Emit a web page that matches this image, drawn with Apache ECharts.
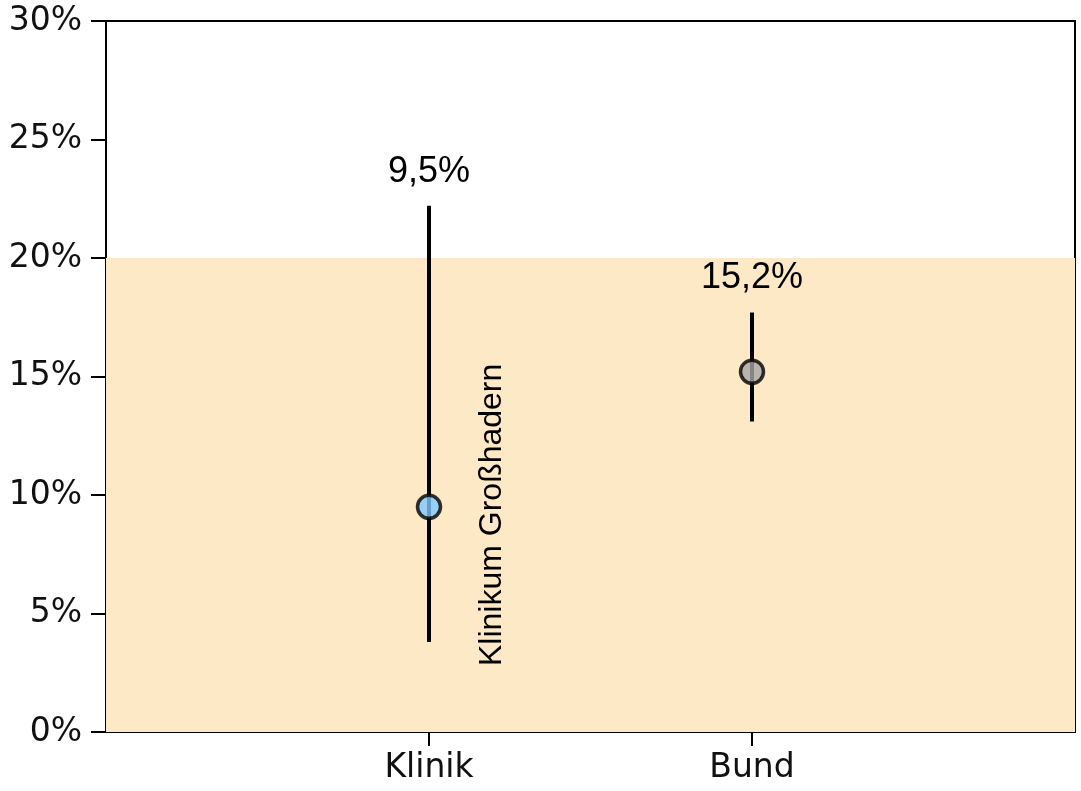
<!DOCTYPE html>
<html>
<head>
<meta charset="utf-8">
<script src="https://cdn.jsdelivr.net/npm/echarts@6/dist/echarts.min.js"></script>
<style>
  html, body { margin: 0; padding: 0; background: #fff; }
  #main { width: 1081px; height: 791px; }
</style>
</head>
<body>
<div id="main"></div>
<script>
// categories (empty ones pad the axis so the two groups sit at 1/3 and 2/3)
const categories = ['', 'Klinik', 'Bund', ''];
const values = [9.5, 15.2];
const lower = [3.8, 13.1];
const upper = [22.2, 17.7];
const pointColors = ['#80c8fc', '#a6a6a6'];
const bandRange = [0, 20];
const yTicks = [0, 5, 10, 15, 20, 25, 30];
const annotation = 'Klinikum Großhadern';

const chart = echarts.init(document.getElementById('main'));

// rows: [categoryIndex, value, low, high]
const rows = values.map((v, i) => [i + 1, v, lower[i], upper[i]]);

function fmt(v) {
  return v.toFixed(1).replace('.', ',') + '%';
}

const option = {
  animation: false,
  grid: {
    left: 106, right: 6, top: 21, bottom: 59,
    show: true, borderColor: '#000', borderWidth: 2, backgroundColor: 'transparent'
  },
  xAxis: {
    type: 'category',
    data: categories,
    boundaryGap: false,
    axisLine: { lineStyle: { color: '#000', width: 2 } },
    axisTick: {
      length: 14,
      lineStyle: { color: '#000', width: 2 },
      interval: (idx, val) => val !== ''
    },
    axisLabel: {
      color: '#111', fontFamily: 'DejaVu Sans', fontSize: 33, margin: 20,
      interval: 0
    },
    splitLine: { show: false }
  },
  yAxis: {
    type: 'value',
    min: yTicks[0],
    max: yTicks[yTicks.length - 1],
    interval: 5,
    axisLine: { show: true, lineStyle: { color: '#000', width: 2 } },
    axisTick: { show: true, length: 15, lineStyle: { color: '#000', width: 2 } },
    axisLabel: {
      color: '#111', fontFamily: 'DejaVu Sans', fontSize: 33, margin: 24,
      formatter: '{value}%'
    },
    splitLine: { show: false }
  },
  series: [
    {
      // shaded band 0–20 %
      type: 'line',
      data: [],
      z: 0,
      silent: true,
      markArea: {
        silent: true,
        itemStyle: { color: '#fde9c6' },
        data: [[{ yAxis: bandRange[0] }, { yAxis: bandRange[1] }]]
      }
    },
    {
      type: 'custom',
      z: 5,
      data: rows,
      renderItem: function (params, api) {
        const x = api.value(0);
        const top = api.coord([x, api.value(3)]);
        const bot = api.coord([x, api.value(2)]);
        const mid = api.coord([x, api.value(1)]);
        const children = [
          {
            type: 'line',
            shape: { x1: top[0], y1: top[1], x2: bot[0], y2: bot[1] },
            style: { stroke: '#000', lineWidth: 4 }
          },
          {
            type: 'text',
            x: top[0], y: top[1] - 16,
            style: {
              text: fmt(api.value(1)),
              fill: '#000',
              font: '36px "Liberation Sans", Arial, sans-serif',
              align: 'center', verticalAlign: 'bottom'
            }
          }
        ];
        if (params.dataIndex === 0) {
          children.push({
            type: 'text',
            x: mid[0] + 63,
            y: mid[1] + 8,
            rotation: Math.PI / 2,
            style: {
              text: annotation,
              fill: '#000',
              font: '32px "Liberation Sans", Arial, sans-serif',
              align: 'center', verticalAlign: 'middle'
            }
          });
        }
        return { type: 'group', children: children };
      }
    },
    {
      type: 'scatter',
      z: 10,
      symbolSize: 23,
      data: rows.map((r, i) => ({
        value: [r[0], r[1]],
        itemStyle: { color: pointColors[i], borderColor: '#000', borderWidth: 3.5 }
      }))
    }
  ]
};

chart.setOption(option);
</script>
</body>
</html>
